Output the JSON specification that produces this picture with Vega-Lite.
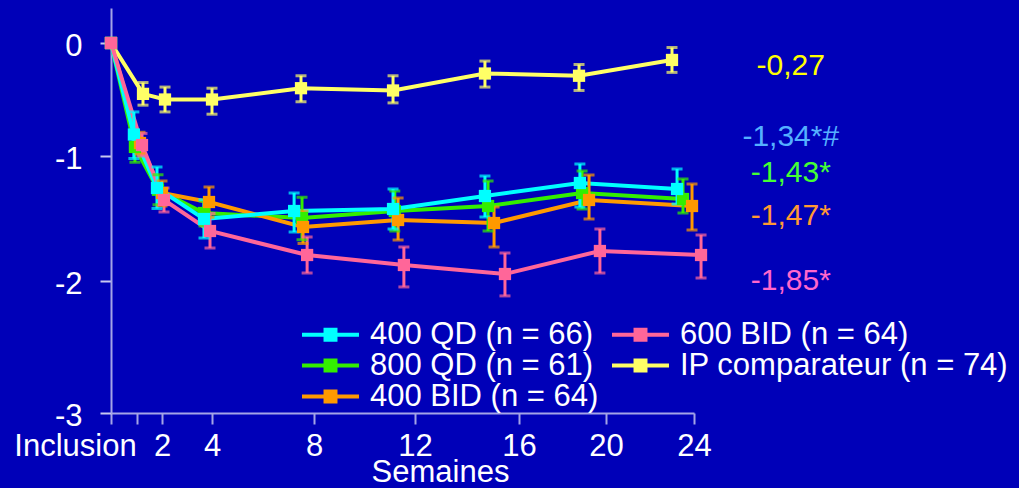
{
  "$schema": "https://vega.github.io/schema/vega-lite/v6.json",
  "autosize": {"type": "none"},
  "padding": {"left": 111, "top": 8, "right": 325, "bottom": 75},
  "width": 583,
  "height": 405,
  "background": "#0000b8",
  "config": {
    "view": {"stroke": null},
    "font": "Liberation Sans",
    "axis": {"grid": false}
  },
  "datasets": {
    "pts": [
      {"serie": "IP comparateur (n = 74)", "sem": 0, "moy": 0},
      {"serie": "IP comparateur (n = 74)", "sem": 1.24, "moy": -0.45, "bas": -0.55, "haut": -0.35},
      {"serie": "IP comparateur (n = 74)", "sem": 2.12, "moy": -0.5, "bas": -0.61, "haut": -0.39},
      {"serie": "IP comparateur (n = 74)", "sem": 4.0, "moy": -0.5, "bas": -0.63, "haut": -0.4},
      {"serie": "IP comparateur (n = 74)", "sem": 7.49, "moy": -0.4, "bas": -0.52, "haut": -0.29},
      {"serie": "IP comparateur (n = 74)", "sem": 11.13, "moy": -0.42, "bas": -0.53, "haut": -0.29},
      {"serie": "IP comparateur (n = 74)", "sem": 14.69, "moy": -0.27, "bas": -0.39, "haut": -0.16},
      {"serie": "IP comparateur (n = 74)", "sem": 18.76, "moy": -0.29, "bas": -0.42, "haut": -0.19},
      {"serie": "IP comparateur (n = 74)", "sem": 23.0, "moy": -0.15, "bas": -0.26, "haut": -0.04},
      {"serie": "800 QD (n = 61)", "sem": 0, "moy": 0},
      {"serie": "800 QD (n = 61)", "sem": 0.92, "moy": -0.92, "bas": -1.05, "haut": -0.8},
      {"serie": "800 QD (n = 61)", "sem": 1.84, "moy": -1.27, "bas": -1.39, "haut": -1.15},
      {"serie": "800 QD (n = 61)", "sem": 3.68, "moy": -1.456, "bas": -1.56, "haut": -1.36},
      {"serie": "800 QD (n = 61)", "sem": 7.53, "moy": -1.496, "bas": -1.67, "haut": -1.33},
      {"serie": "800 QD (n = 61)", "sem": 11.2, "moy": -1.44, "bas": -1.6, "haut": -1.28},
      {"serie": "800 QD (n = 61)", "sem": 14.81, "moy": -1.4, "bas": -1.6, "haut": -1.2},
      {"serie": "800 QD (n = 61)", "sem": 18.9, "moy": -1.296, "bas": -1.424, "haut": -1.12},
      {"serie": "800 QD (n = 61)", "sem": 23.5, "moy": -1.344, "bas": -1.456, "haut": -1.184},
      {"serie": "400 BID (n = 64)", "sem": 0, "moy": 0},
      {"serie": "400 BID (n = 64)", "sem": 1.12, "moy": -0.885, "bas": -0.98, "haut": -0.79},
      {"serie": "400 BID (n = 64)", "sem": 2.0, "moy": -1.296, "bas": -1.4, "haut": -1.2},
      {"serie": "400 BID (n = 64)", "sem": 3.88, "moy": -1.368, "bas": -1.49, "haut": -1.248},
      {"serie": "400 BID (n = 64)", "sem": 7.57, "moy": -1.568, "bas": -1.7, "haut": -1.44},
      {"serie": "400 BID (n = 64)", "sem": 11.33, "moy": -1.512, "bas": -1.672, "haut": -1.336},
      {"serie": "400 BID (n = 64)", "sem": 15.04, "moy": -1.536, "bas": -1.728, "haut": -1.408},
      {"serie": "400 BID (n = 64)", "sem": 19.22, "moy": -1.352, "bas": -1.504, "haut": -1.152},
      {"serie": "400 BID (n = 64)", "sem": 23.91, "moy": -1.4, "bas": -1.592, "haut": -1.224},
      {"serie": "400 QD (n = 66)", "sem": 0, "moy": 0},
      {"serie": "400 QD (n = 66)", "sem": 0.88, "moy": -0.81, "bas": -1.02, "haut": -0.61},
      {"serie": "400 QD (n = 66)", "sem": 1.8, "moy": -1.256, "bas": -1.42, "haut": -1.088},
      {"serie": "400 QD (n = 66)", "sem": 3.68, "moy": -1.504, "bas": -1.656, "haut": -1.35},
      {"serie": "400 QD (n = 66)", "sem": 7.22, "moy": -1.44, "bas": -1.608, "haut": -1.296},
      {"serie": "400 QD (n = 66)", "sem": 11.13, "moy": -1.424, "bas": -1.584, "haut": -1.264},
      {"serie": "400 QD (n = 66)", "sem": 14.69, "moy": -1.32, "bas": -1.488, "haut": -1.16},
      {"serie": "400 QD (n = 66)", "sem": 18.8, "moy": -1.216, "bas": -1.408, "haut": -1.064},
      {"serie": "400 QD (n = 66)", "sem": 23.23, "moy": -1.264, "bas": -1.384, "haut": -1.104},
      {"serie": "600 BID (n = 64)", "sem": 0, "moy": 0},
      {"serie": "600 BID (n = 64)", "sem": 1.2, "moy": -0.903, "bas": -1.0, "haut": -0.8},
      {"serie": "600 BID (n = 64)", "sem": 2.08, "moy": -1.352, "bas": -1.448, "haut": -1.256},
      {"serie": "600 BID (n = 64)", "sem": 3.92, "moy": -1.6, "bas": -1.736, "haut": -1.46},
      {"serie": "600 BID (n = 64)", "sem": 7.73, "moy": -1.792, "bas": -1.936, "haut": -1.648},
      {"serie": "600 BID (n = 64)", "sem": 11.56, "moy": -1.872, "bas": -2.045, "haut": -1.728},
      {"serie": "600 BID (n = 64)", "sem": 15.46, "moy": -1.944, "bas": -2.113, "haut": -1.776},
      {"serie": "600 BID (n = 64)", "sem": 19.72, "moy": -1.76, "bas": -1.936, "haut": -1.584},
      {"serie": "600 BID (n = 64)", "sem": 24.32, "moy": -1.792, "bas": -1.976, "haut": -1.632}
    ],
    "notes": [
      {"serie": "IP comparateur (n = 74)", "etiquette": "-0,27", "sem": 28.4, "pos": -0.204},
      {"serie": "400 QD (n = 66)", "etiquette": "-1,34*#", "sem": 28.4, "pos": -0.832},
      {"serie": "800 QD (n = 61)", "etiquette": "-1,43*", "sem": 28.4, "pos": -1.136},
      {"serie": "400 BID (n = 64)", "etiquette": "-1,47*", "sem": 28.4, "pos": -1.48},
      {"serie": "600 BID (n = 64)", "etiquette": "-1,85*", "sem": 28.4, "pos": -2.0}
    ]
  },
  "layer": [
    {
      "data": {"name": "pts"},
      "mark": {"type": "line", "strokeWidth": 4},
      "encoding": {
        "x": {
          "field": "sem", "type": "quantitative",
          "scale": {"domain": [0, 1, 2, 4, 8, 12, 16, 20, 24], "range": [0, 26, 51, 101, 203, 304, 408, 495, 583], "nice": false, "zero": false},
          "axis": {
            "values": [0, 1, 2, 4, 8, 12, 16, 20, 24],
            "labelExpr": "datum.value == 0 ? 'Inclusion' : (datum.value == 1 ? '' : '' + datum.value)",
            "labelOffset": {"condition": {"test": "datum.value == 0", "value": -36}, "value": 0},
            "labelFontSize": 31, "labelColor": "white", "labelFont": "Liberation Sans",
            "labelPadding": 7, "labelOverlap": false, "labelFlush": false,
            "domainColor": "#a4a4e6", "domainWidth": 2,
            "tickColor": "#a4a4e6", "tickWidth": 2, "tickSize": 11,
            "title": "Semaines", "titleFontSize": 31, "titleFontWeight": "normal", "titleColor": "white", "titleFont": "Liberation Sans",
            "titleX": 329, "titleY": 68, "titleBaseline": "alphabetic", "titleAlign": "center"
          }
        },
        "y": {
          "field": "moy", "type": "quantitative",
          "scale": {"domain": [-3, -2, -1, 0, 0.31], "range": [405, 273, 148, 35, 0], "nice": false, "zero": false},
          "axis": {
            "values": [0, -1, -2, -3],
            "labelExpr": "'' + datum.value",
            "labelFontSize": 31, "labelColor": "white", "labelFont": "Liberation Sans",
            "labelPadding": 18, "labelOffset": 3, "labelOverlap": false, "labelFlush": false,
            "domainColor": "#a4a4e6", "domainWidth": 2,
            "tickColor": "#c8c8f0", "tickWidth": 2, "tickSize": 11,
            "title": null
          }
        },
        "color": {
          "field": "serie", "type": "nominal",
          "scale": {
            "domain": ["400 QD (n = 66)", "800 QD (n = 61)", "400 BID (n = 64)", "600 BID (n = 64)", "IP comparateur (n = 74)"],
            "range": ["#00ffff", "#33ee00", "#ff9900", "#ff6699", "#ffff66"]
          },
          "legend": {
            "title": null, "orient": "none", "legendX": 204, "legendY": 311,
            "columns": 2, "columnPadding": 13, "rowPadding": -6, "padding": 0,
            "symbolType": "M-2,-0.14H2V0.14H-2Z M-0.49,-0.49H0.49V0.49H-0.49Z",
            "symbolSize": 812, "symbolStrokeWidth": 0,
            "labelFontSize": 31, "labelColor": "white", "labelFont": "Liberation Sans", "labelOffset": 24, "labelLimit": 600,
            "encode": {"symbols": {"update": {"fill": {"scale": "color", "field": "value"}, "opacity": {"value": 1}, "strokeWidth": {"value": 0}}}}
          }
        }
      }
    },
    {
      "data": {"name": "pts"},
      "transform": [{"filter": "isValid(datum.bas)"}],
      "mark": {"type": "rule", "strokeWidth": 3},
      "encoding": {
        "x": {"field": "sem", "type": "quantitative"},
        "y": {"field": "bas", "type": "quantitative"},
        "y2": {"field": "haut"},
        "color": {"field": "serie", "type": "nominal"}
      }
    },
    {
      "data": {"name": "pts"},
      "transform": [{"filter": "isValid(datum.bas)"}],
      "mark": {"type": "tick", "orient": "horizontal", "size": 11, "thickness": 3},
      "encoding": {
        "x": {"field": "sem", "type": "quantitative"},
        "y": {"field": "bas", "type": "quantitative"},
        "color": {"field": "serie", "type": "nominal"}
      }
    },
    {
      "data": {"name": "pts"},
      "transform": [{"filter": "isValid(datum.haut)"}],
      "mark": {"type": "tick", "orient": "horizontal", "size": 11, "thickness": 3},
      "encoding": {
        "x": {"field": "sem", "type": "quantitative"},
        "y": {"field": "haut", "type": "quantitative"},
        "color": {"field": "serie", "type": "nominal"}
      }
    },
    {
      "data": {"name": "pts"},
      "mark": {"type": "point", "shape": "square", "filled": true, "size": 150, "opacity": 1},
      "encoding": {
        "x": {"field": "sem", "type": "quantitative"},
        "y": {"field": "moy", "type": "quantitative"},
        "color": {"field": "serie", "type": "nominal"}
      }
    },
    {
      "data": {"name": "notes"},
      "mark": {"type": "text", "fontSize": 30, "font": "Liberation Sans", "align": "center", "baseline": "middle"},
      "encoding": {
        "x": {"field": "sem", "type": "quantitative"},
        "y": {"field": "pos", "type": "quantitative"},
        "text": {"field": "etiquette"},
        "fill": {
          "field": "serie", "type": "nominal", "legend": null,
          "scale": {
            "domain": ["IP comparateur (n = 74)", "400 QD (n = 66)", "800 QD (n = 61)", "400 BID (n = 64)", "600 BID (n = 64)"],
            "range": ["#ffff00", "#55b0ff", "#44ff33", "#ff9933", "#ff66cc"]
          }
        }
      }
    }
  ]
}
